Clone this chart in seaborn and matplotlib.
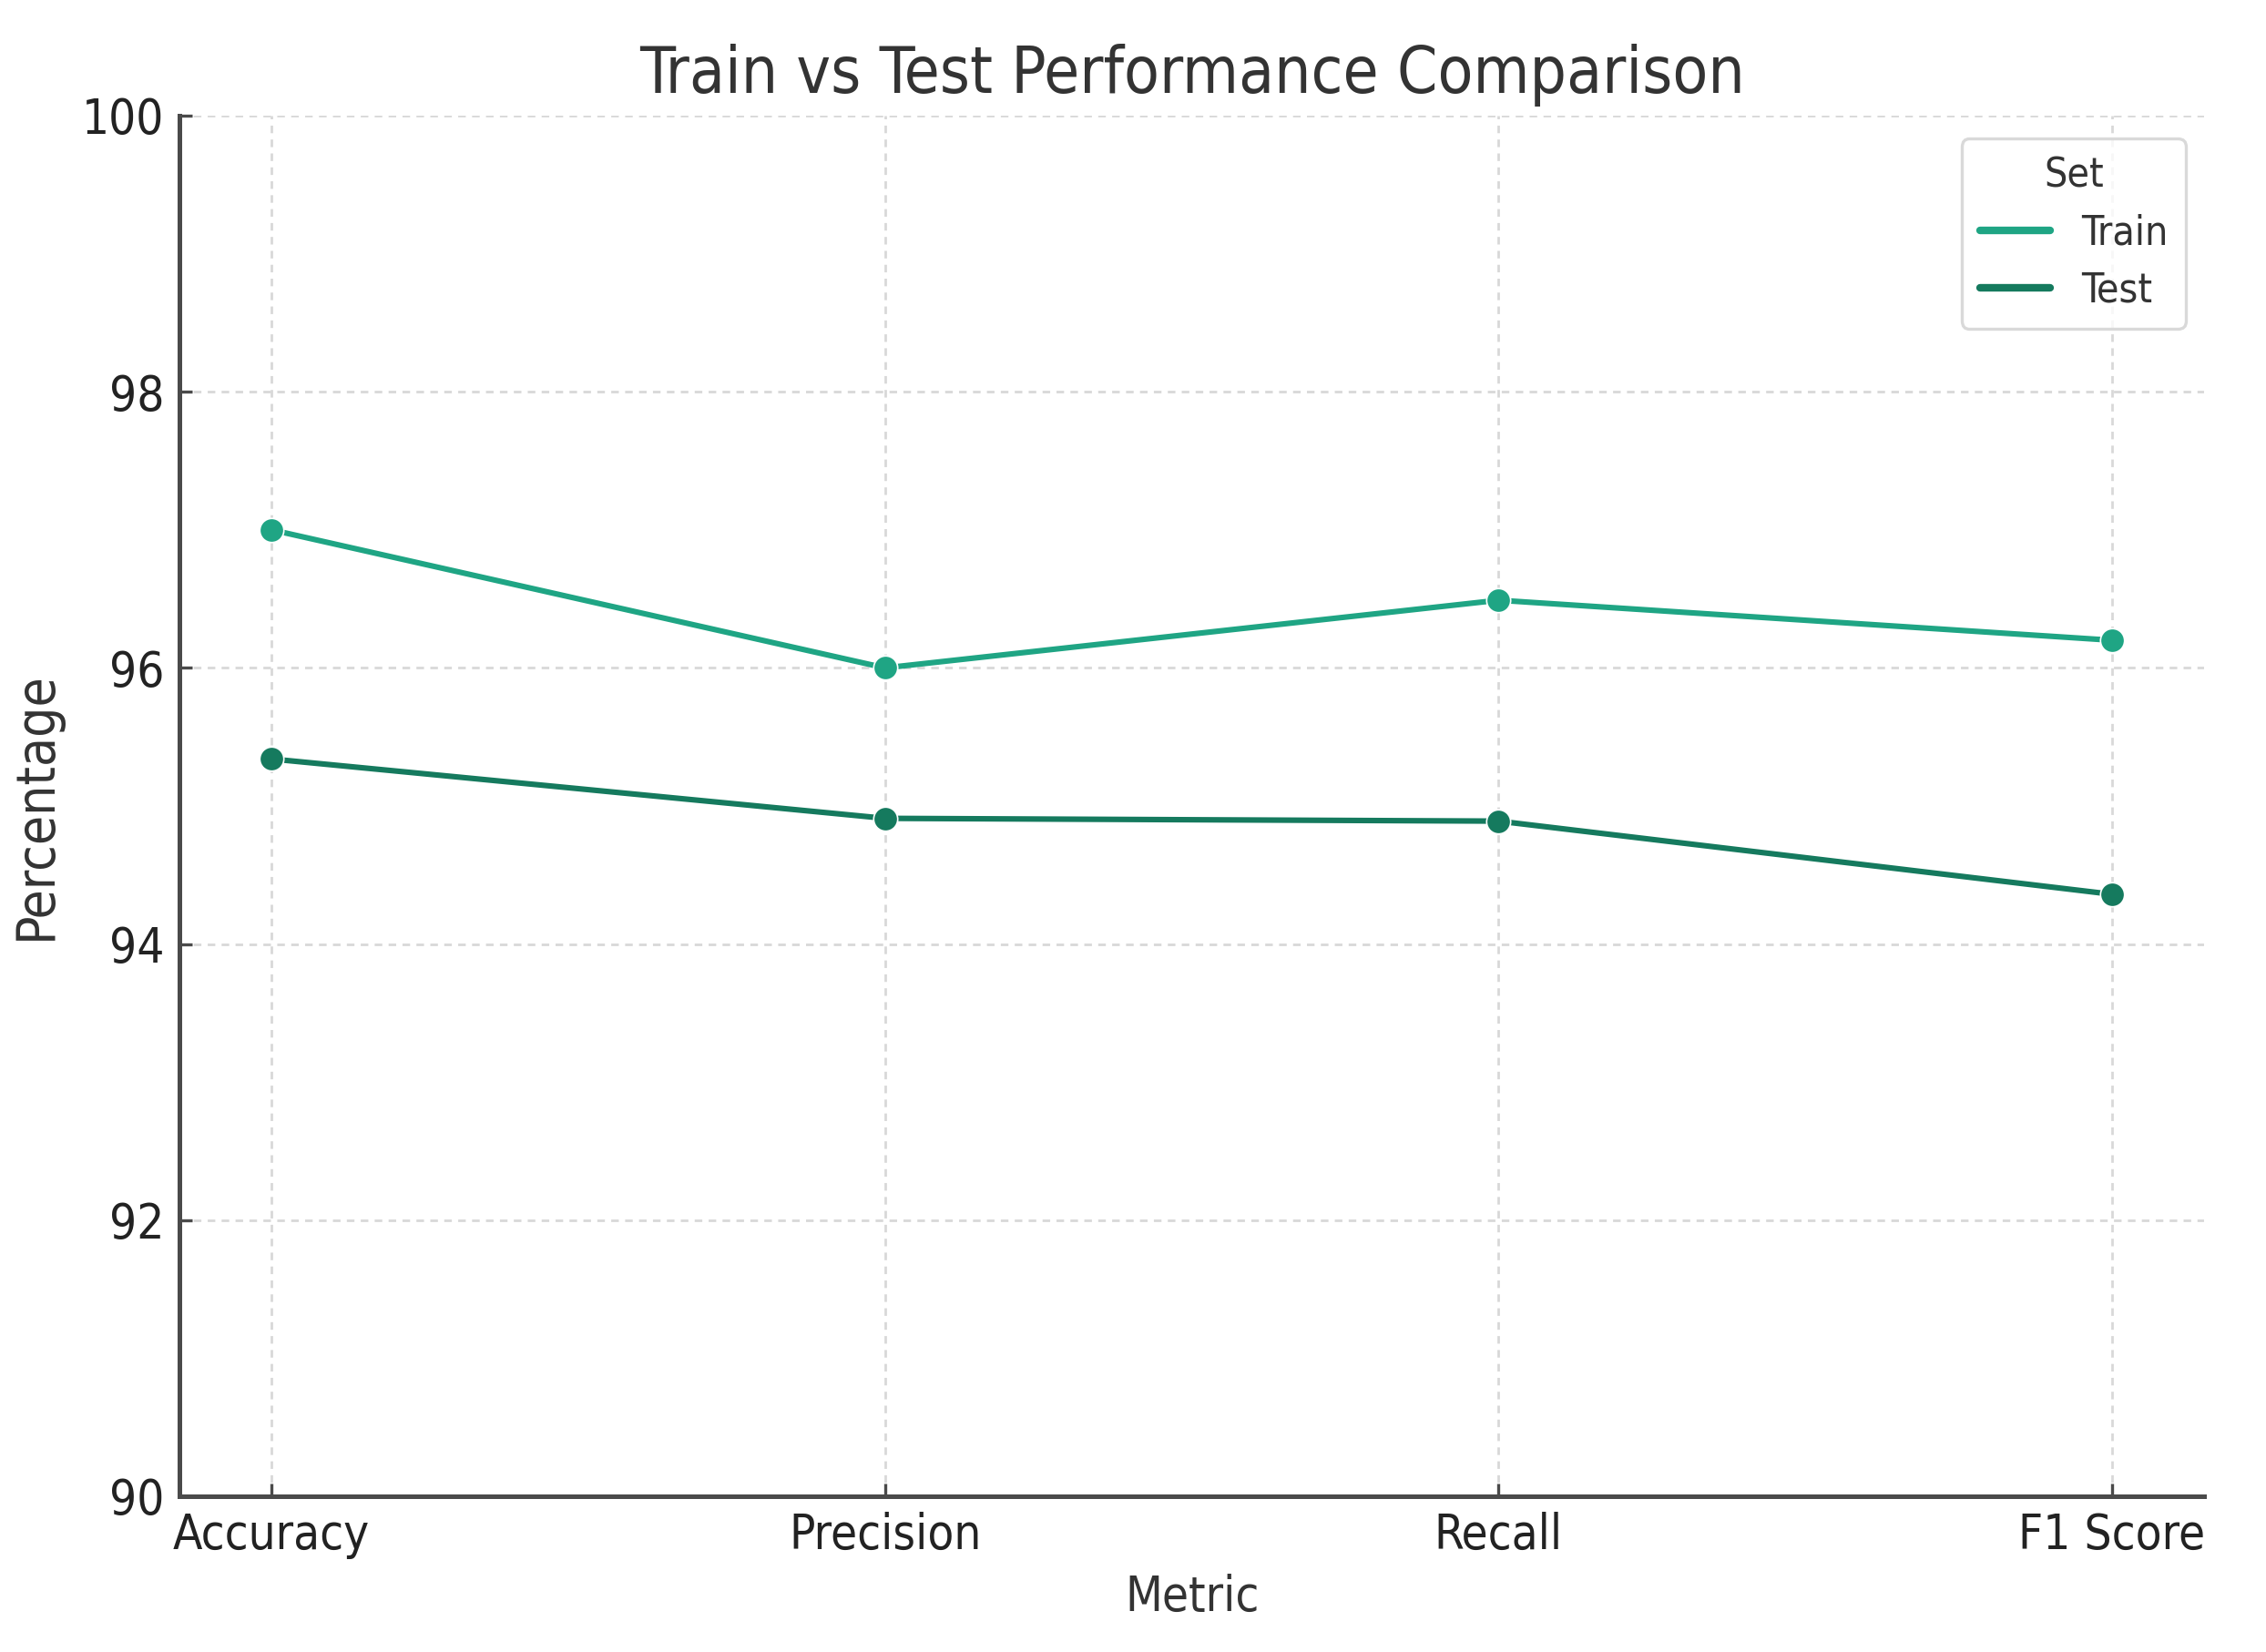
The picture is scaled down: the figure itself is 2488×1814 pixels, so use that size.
import pandas as pd
import seaborn as sns
import matplotlib.pyplot as plt

metrics = ["Accuracy", "Precision", "Recall", "F1 Score"]
train_scores = [97.0, 96.0, 96.49, 96.2]
test_scores = [95.34, 94.91, 94.89, 94.36]
sets = ["Train", "Test"]
set_colors = ["#1fa584", "#157a5e"]

df = pd.DataFrame({
    "Metric": metrics * 2,
    "Percentage": train_scores + test_scores,
    "Set": ["Train"] * len(metrics) + ["Test"] * len(metrics),
})

sns.set_style("ticks")
plt.rcParams["font.family"] = ["DejaVu Sans"]
plt.rcParams["font.stretch"] = "condensed"
plt.rcParams["text.color"] = "#333333"
plt.rcParams["axes.labelcolor"] = "#333333"

fig = plt.figure(figsize=(12.44, 9.07), dpi=200)
ax = fig.add_axes([0.0792, 0.0943, 0.8935, 0.8357])

sns.lineplot(data=df, x="Metric", y="Percentage", hue="Set", hue_order=sets,
             palette=dict(zip(sets, set_colors)), marker="o", markersize=9.5,
             markeredgewidth=0.6, linewidth=2.2, ax=ax)

ax.set_ylim(90, 100)
ax.set_yticks([90, 92, 94, 96, 98, 100])
ax.grid(True, linestyle=(0, (3, 2.5)), color="#d8d8d8", linewidth=1.0)
sns.despine(ax=ax)
for side in ["left", "bottom"]:
    ax.spines[side].set_color("#4a4a4a")
    ax.spines[side].set_linewidth(1.8)
ax.tick_params(direction="in", length=5, width=1.2, color="#4a4a4a",
               labelsize=19, labelcolor="#222222", pad=6)

ax.set_title("Train vs Test Performance Comparison", fontsize=25.5, pad=9)
ax.set_xlabel("Metric", fontsize=19, labelpad=6)
ax.set_ylabel("Percentage", fontsize=21, labelpad=8)

leg = ax.legend(title="Set", loc="upper right", fontsize=16, title_fontsize=16,
                frameon=True, fancybox=True, borderpad=0.45, handlelength=1.75,
                handletextpad=0.75, labelspacing=0.45,
                borderaxespad=0, bbox_to_anchor=(0.991, 0.9835))
for h in leg.legend_handles:
    h.set_marker("")
    h.set_linewidth(3)
leg.get_frame().set_edgecolor("#d0d0d0")
leg.get_frame().set_linewidth(1.2)

fig.savefig("out.png", dpi=200)
